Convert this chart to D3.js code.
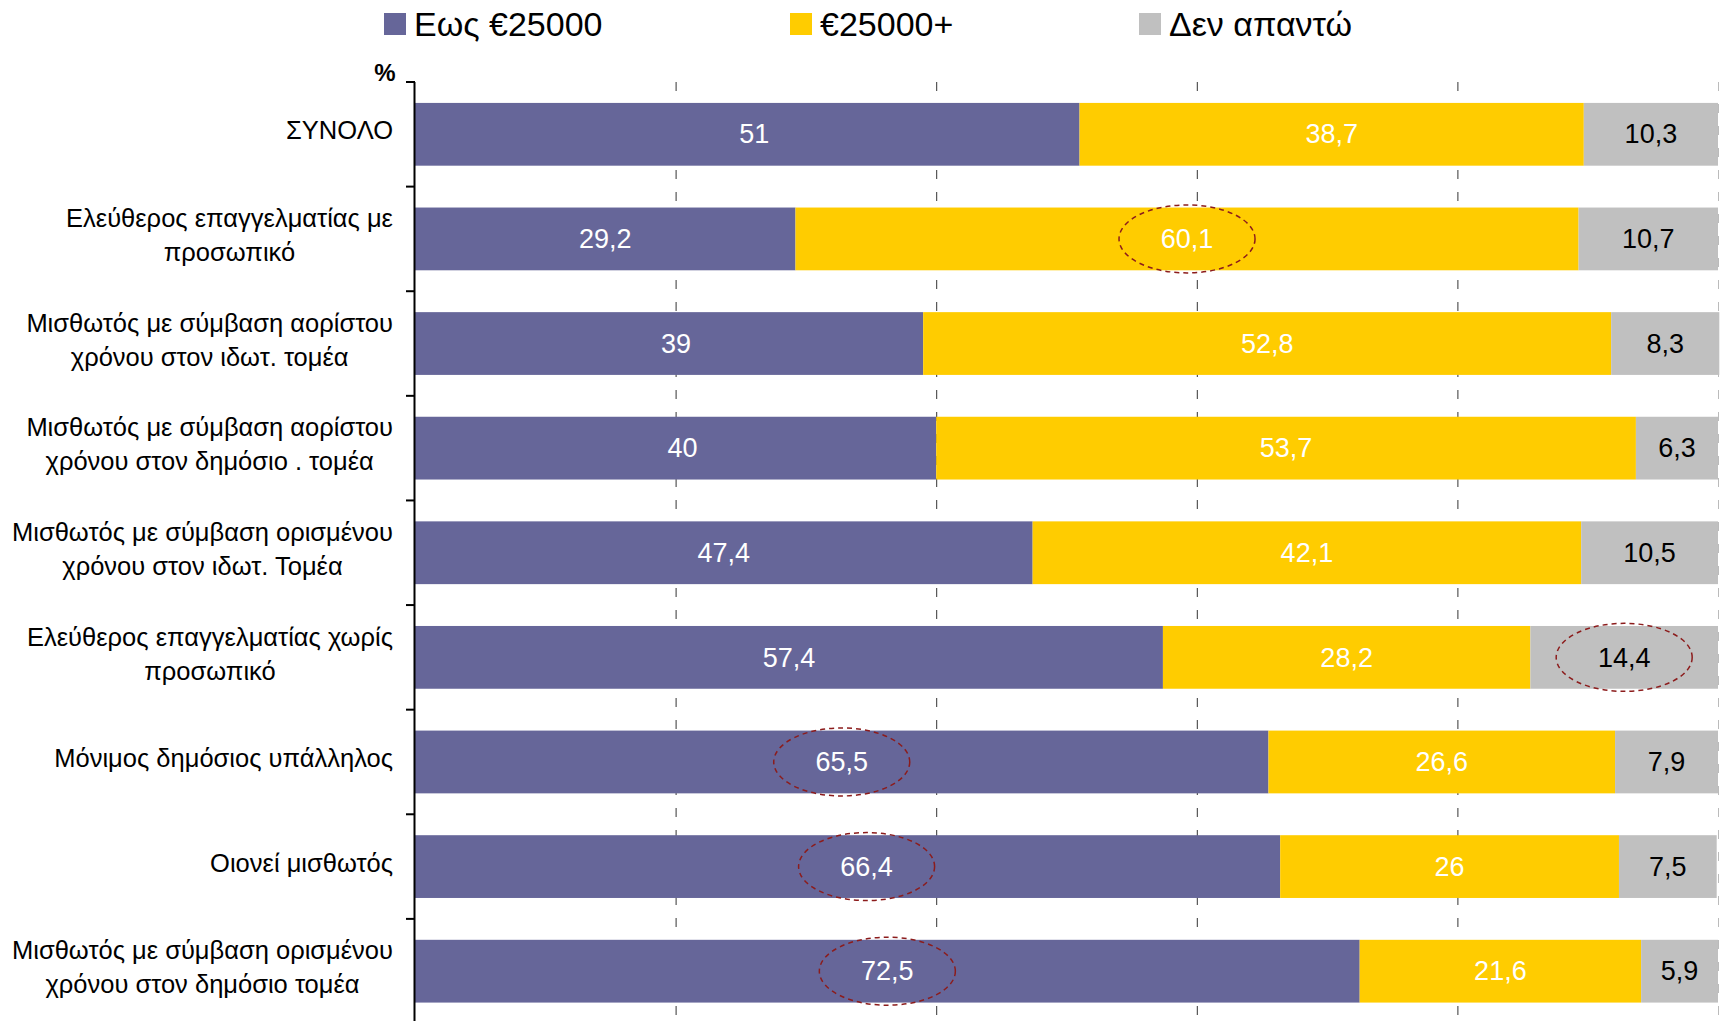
<!DOCTYPE html>
<html>
<head>
<meta charset="utf-8">
<script src="https://cdn.jsdelivr.net/npm/d3@7"></script>
<style>
  body { margin: 0; background: #fff; }
  svg { display: block; font-family: "Liberation Sans", Arial, sans-serif; }
</style>
</head>
<body>
<div id="chart"></div>
<script>
const categories = [
  "ΣΥΝΟΛΟ",
  "Ελεύθερος επαγγελματίας με\nπροσωπικό",
  "Μισθωτός με σύμβαση αορίστου\nχρόνου στον ιδωτ. τομέα",
  "Μισθωτός με σύμβαση αορίστου\nχρόνου στον δημόσιο . τομέα",
  "Μισθωτός με σύμβαση ορισμένου\nχρόνου στον ιδωτ. Τομέα",
  "Ελεύθερος επαγγελματίας χωρίς\nπροσωπικό",
  "Μόνιμος δημόσιος υπάλληλος",
  "Οιονεί μισθωτός",
  "Μισθωτός με σύμβαση ορισμένου\nχρόνου στον δημόσιο τομέα",
];
const seriesNames = ["Εως €25000", "€25000+", "Δεν απαντώ"];
const upTo25k = [51, 29.2, 39, 40, 47.4, 57.4, 65.5, 66.4, 72.5];
const over25k = [38.7, 60.1, 52.8, 53.7, 42.1, 28.2, 26.6, 26, 21.6];
const noAnswer = [10.3, 10.7, 8.3, 6.3, 10.5, 14.4, 7.9, 7.5, 5.9];
const gridTicks = [20, 40, 60, 80, 100];
// [row, series] of the labels circled in the original
const highlighted = [[1, 1], [5, 2], [6, 0], [7, 0], [8, 0]];

const colors = ["#666699", "#FFCC00", "#C0C0C0"];
const labelColors = ["#ffffff", "#ffffff", "#000000"];
// a few labels sit a little right of the segment centre in the original (px)
const nudge = { "0-0": 7, "2-0": 7, "3-0": 7, "7-0": 19 };

const width = 1725;
const height = 1021;
const axisX = 415;
const axisTop = 82;

const seriesValues = [upTo25k, over25k, noAnswer];
const rows = categories.map((c, i) => ({ cat: i, s0: upTo25k[i], s1: over25k[i], s2: noAnswer[i] }));
const stacked = d3.stack().keys(["s0", "s1", "s2"])(rows);

const x = d3.scaleLinear().domain([0, 100]).range([axisX, 1718]);
const y = d3.scaleBand()
  .domain(d3.range(categories.length))
  .range([axisTop, 1023.5])
  .paddingInner(0.4)
  .paddingOuter(0.2);

const labelX = (r, s) => x((stacked[s][r][0] + stacked[s][r][1]) / 2) + (nudge[`${r}-${s}`] || 0);

const svg = d3.select("#chart").append("svg")
  .attr("width", width)
  .attr("height", height);

// gridlines
svg.append("g")
  .selectAll("line")
  .data(gridTicks)
  .join("line")
  .attr("x1", (d) => x(d) + 0.5)
  .attr("x2", (d) => x(d) + 0.5)
  .attr("y1", axisTop)
  .attr("y2", height)
  .attr("stroke", (d) => (d === 100 ? "#bbb" : "#333"))
  .attr("stroke-width", 1)
  .attr("stroke-dasharray", "9,13");

// bars
const layer = svg.append("g")
  .selectAll("g")
  .data(stacked)
  .join("g")
  .attr("fill", (d, i) => colors[i]);

layer.selectAll("rect")
  .data((d) => d)
  .join("rect")
  .attr("x", (d) => x(d[0]))
  .attr("width", (d) => x(d[1]) - x(d[0]))
  .attr("y", (d) => y(d.data.cat))
  .attr("height", y.bandwidth());

// value labels
const fmt = (v) => String(v).replace(".", ",");
stacked.forEach((s, si) => {
  svg.append("g")
    .selectAll("text")
    .data(s)
    .join("text")
    .attr("x", (d) => labelX(d.data.cat, si))
    .attr("y", (d) => y(d.data.cat) + y.bandwidth() / 2)
    .attr("dy", "0.34em")
    .attr("text-anchor", "middle")
    .attr("font-size", 27)
    .attr("fill", labelColors[si])
    .text((d) => fmt(seriesValues[si][d.data.cat]));
});

// dashed ellipses around highlighted values
svg.append("g")
  .selectAll("ellipse")
  .data(highlighted)
  .join("ellipse")
  .attr("cx", ([r, s]) => labelX(r, s))
  .attr("cy", ([r]) => y(r) + y.bandwidth() / 2)
  .attr("rx", 68)
  .attr("ry", 34)
  .attr("fill", "none")
  .attr("stroke", "#8c1c1c")
  .attr("stroke-width", 1.5)
  .attr("stroke-dasharray", "5,4");

// category axis
const step = y.step();
svg.append("line")
  .attr("x1", axisX - 0.5).attr("x2", axisX - 0.5)
  .attr("y1", axisTop).attr("y2", height)
  .attr("stroke", "#000").attr("stroke-width", 2);

svg.append("g")
  .selectAll("line")
  .data(d3.range(categories.length + 1))
  .join("line")
  .attr("x1", axisX - 9)
  .attr("x2", axisX)
  .attr("y1", (i) => axisTop + i * step)
  .attr("y2", (i) => axisTop + i * step)
  .attr("stroke", "#000")
  .attr("stroke-width", 2);

const labelRight = 393;
const lineH = 34;
categories.forEach((c, i) => {
  const lines = c.split("\n");
  const cy = y(i) + y.bandwidth() / 2 - 4;
  const g = svg.append("g");
  const texts = lines.map((ln, k) =>
    g.append("text")
      .attr("y", cy + (k - (lines.length - 1) / 2) * lineH)
      .attr("dy", "0.36em")
      .attr("font-size", 25.5)
      .attr("fill", "#000")
      .attr("text-anchor", "middle")
      .text(ln)
  );
  const maxW = d3.max(texts, (t) => t.node().getComputedTextLength());
  texts.forEach((t) => t.attr("x", labelRight - maxW / 2));
});

svg.append("text")
  .attr("x", 385)
  .attr("y", 81)
  .attr("text-anchor", "middle")
  .attr("font-size", 24)
  .attr("font-weight", "bold")
  .text("%");

// legend
const legendX = [384, 790, 1139];
const legend = svg.append("g")
  .selectAll("g")
  .data(seriesNames)
  .join("g")
  .attr("transform", (d, i) => `translate(${legendX[i]},0)`);

legend.append("rect")
  .attr("x", 0).attr("y", 13)
  .attr("width", 22).attr("height", 22)
  .attr("fill", (d, i) => colors[i]);

legend.append("text")
  .attr("x", 30)
  .attr("y", 36)
  .attr("font-size", 34)
  .attr("fill", "#000")
  .text((d) => d);
</script>
</body>
</html>
